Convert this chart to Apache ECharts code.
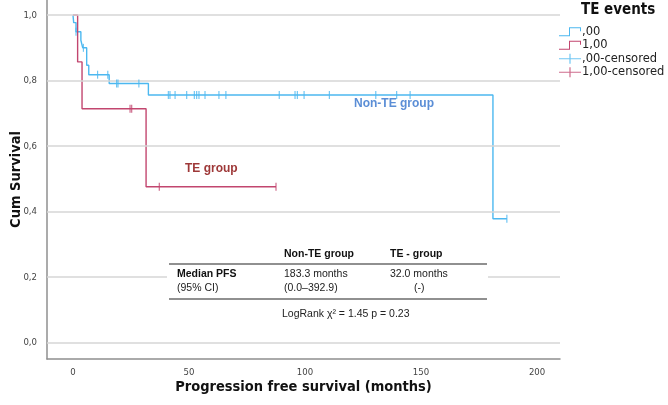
<!DOCTYPE html>
<html>
<head>
<meta charset="utf-8">
<script src="https://cdn.jsdelivr.net/npm/echarts@6/dist/echarts.min.js"></script>
<style>
html,body{margin:0;padding:0;background:#fff;}
#chart{width:668px;height:405px;}
</style>
</head>
<body>
<div id="chart"></div>
<script>
// ---- data ----
const xTicks = [0, 50, 100, 150, 200];
const yTicks = [0, 0.2, 0.4, 0.6, 0.8, 1.0];

const nonTeTimes = [0, 0.3, 1.3, 3.4, 4.2, 5.9, 6.8, 15.6, 32.5, 181, 187];
const nonTeSurv  = [1.0, 0.977, 0.949, 0.923, 0.900, 0.847, 0.818, 0.791, 0.756, 0.378, 0.378];
const nonTeCensorTimes = [1.3, 4.5, 10.6, 15.0, 18.8, 19.4, 28.4, 41.1, 41.8, 44, 49, 52.3, 53.3, 54.3, 56.9, 62.9, 65.9, 88.9, 95.7, 96.7, 99.6, 110.5, 130.5, 139.5, 145.3, 187];

const teTimes = [0, 2.0, 3.9, 31.5, 87.5];
const teSurv  = [1.0, 0.857, 0.714, 0.476, 0.476];
const teCensorTimes = [24.6, 25.3, 37.2, 87.5];

const legendNames = [',00', '1,00', ',00-censored', '1,00-censored'];
const groupLabels = ['Non-TE group', 'TE group'];

// ---- build ----
const BLUE = '#4cb8f0', RED = '#c2466f';
function pairs(t, s) { return t.map((v, i) => [v, s[i]]); }
function survAt(t, times, surv) {
  let s = surv[0];
  for (let i = 0; i < times.length; i++) if (t >= times[i]) s = surv[i];
  return s;
}
const nonTeCens = nonTeCensorTimes.map(t => [t, survAt(t, nonTeTimes, nonTeSurv)]);
const teCens = teCensorTimes.map(t => [t, survAt(t, teTimes, teSurv)]);

const stepIcon = 'path://M0,8 L10,8 L10,0 L22,0 L22,4 L21,4 L21,1 L11,1 L11,9 L0,9 Z';
const plusIcon = 'path://M0,4.4 L22,4.4 L22,5.6 L0,5.6 Z M10.4,0 L11.6,0 L11.6,10 L10.4,10 Z';

const chart = echarts.init(document.getElementById('chart'), null, {renderer: 'canvas'});
const condensed = '"DejaVu Sans Condensed", "Liberation Sans Narrow", "DejaVu Sans", sans-serif';
const sans = '"Liberation Sans", Arial, sans-serif';

chart.setOption({
  animation: false,
  backgroundColor: '#ffffff',
  grid: {left: 47, right: 108, top: 0, bottom: 46, containLabel: false, outerBoundsMode: 'none'},
  xAxis: {
    type: 'value', min: -11.2, max: 209.9,
    splitLine: {show: false},
    axisTick: {show: false},
    axisLine: {show: true, onZero: false, lineStyle: {color: '#8f8f8f', width: 1.5}},
    axisLabel: {customValues: xTicks, color: '#444', fontFamily: condensed, fontSize: 9.5, margin: 9},
    name: 'Progression free survival (months)', nameLocation: 'middle', nameGap: 21, nameMoveOverlap: false,
    nameTextStyle: {fontFamily: condensed, fontWeight: 'bold', fontSize: 14.5, color: '#111'}
  },
  yAxis: {
    type: 'value', min: -0.050, max: 1.046,
    splitLine: {show: false},
    axisTick: {show: false},
    axisLine: {show: true, onZero: false, lineStyle: {color: '#8f8f8f', width: 1.5}},
    axisLabel: {customValues: yTicks, color: '#444', fontFamily: condensed, fontSize: 9.5, margin: 10,
      formatter: v => v.toFixed(1).replace('.', ',')},
    name: 'Cum Survival', nameLocation: 'middle', nameGap: 23, nameMoveOverlap: false,
    nameTextStyle: {fontFamily: condensed, fontWeight: 'bold', fontSize: 14.5, color: '#111'}
  },
  legend: {
    orient: 'vertical', left: 559, top: 25, padding: 0, itemWidth: 22, itemHeight: 10, itemGap: 0,
    data: [
      {name: legendNames[0], icon: stepIcon},
      {name: legendNames[1], icon: stepIcon},
      {name: legendNames[2], icon: plusIcon},
      {name: legendNames[3], icon: plusIcon}
    ],
    textStyle: {fontFamily: '"DejaVu Sans", sans-serif', fontSize: 11.5, lineHeight: 13.5, color: '#222', padding: [0, 0, 0, -4]},
    selectedMode: false
  },
  series: [
    {
      type: 'line', name: 'grid', data: [], z: 1, silent: true,
      markLine: {
        silent: true, symbol: 'none', label: {show: false},
        lineStyle: {color: '#d6d6d6', width: 1.5, type: 'solid'},
        data: yTicks.map(v => ({yAxis: v}))
      }
    },
    {
      type: 'line', name: legendNames[0], step: 'end', data: pairs(nonTeTimes, nonTeSurv),
      showSymbol: false, lineStyle: {color: BLUE, width: 1.4}, itemStyle: {color: BLUE}, z: 3
    },
    {
      type: 'line', name: legendNames[1], step: 'end', data: pairs(teTimes, teSurv),
      showSymbol: false, lineStyle: {color: RED, width: 1.4}, itemStyle: {color: RED}, z: 4
    },
    {
      type: 'scatter', name: legendNames[2], data: nonTeCens, symbol: 'rect', symbolSize: [1.2, 8],
      itemStyle: {color: BLUE}, z: 5
    },
    {
      type: 'scatter', name: legendNames[3], data: teCens, symbol: 'rect', symbolSize: [1.2, 8],
      itemStyle: {color: RED}, z: 6
    }
  ],
  graphic: [
    {type: 'text', left: 581, top: 3, z: 20, style: {text: 'TE events', font: 'bold 15px ' + condensed, fill: '#111'}},
    {type: 'text', left: 354, top: 98, z: 20, style: {text: groupLabels[0], font: 'bold 12px ' + sans, fill: '#5b8ed6'}},
    {type: 'text', left: 185, top: 163, z: 20, style: {text: groupLabels[1], font: 'bold 12px ' + sans, fill: '#9e3838'}},
    {type: 'rect', z: 10, shape: {x: 167, y: 240, width: 321, height: 84}, style: {fill: '#ffffff'}},
    {type: 'line', z: 11, shape: {x1: 169, y1: 264, x2: 487, y2: 264}, style: {stroke: '#222', lineWidth: 1.2}},
    {type: 'line', z: 11, shape: {x1: 169, y1: 299, x2: 487, y2: 299}, style: {stroke: '#222', lineWidth: 1.2}},
    {type: 'text', z: 12, left: 284, top: 249, style: {text: 'Non-TE group', font: 'bold 10.5px ' + sans, fill: '#111'}},
    {type: 'text', z: 12, left: 390, top: 249, style: {text: 'TE - group', font: 'bold 10.5px ' + sans, fill: '#111'}},
    {type: 'text', z: 12, left: 177, top: 269, style: {text: 'Median PFS', font: 'bold 10.5px ' + sans, fill: '#111'}},
    {type: 'text', z: 12, left: 284, top: 269, style: {text: '183.3 months', font: '10.5px ' + sans, fill: '#222'}},
    {type: 'text', z: 12, left: 390, top: 269, style: {text: '32.0 months', font: '10.5px ' + sans, fill: '#222'}},
    {type: 'text', z: 12, left: 177, top: 283, style: {text: '(95% CI)', font: '10.5px ' + sans, fill: '#222'}},
    {type: 'text', z: 12, left: 284, top: 283, style: {text: '(0.0–392.9)', font: '10.5px ' + sans, fill: '#222'}},
    {type: 'text', z: 12, left: 414, top: 283, style: {text: '(-)', font: '10.5px ' + sans, fill: '#222'}},
    {type: 'text', z: 12, left: 282, top: 309, style: {text: 'LogRank χ² = 1.45 p = 0.23', font: '10.5px ' + sans, fill: '#222'}}
  ]
});
</script>
</body>
</html>
